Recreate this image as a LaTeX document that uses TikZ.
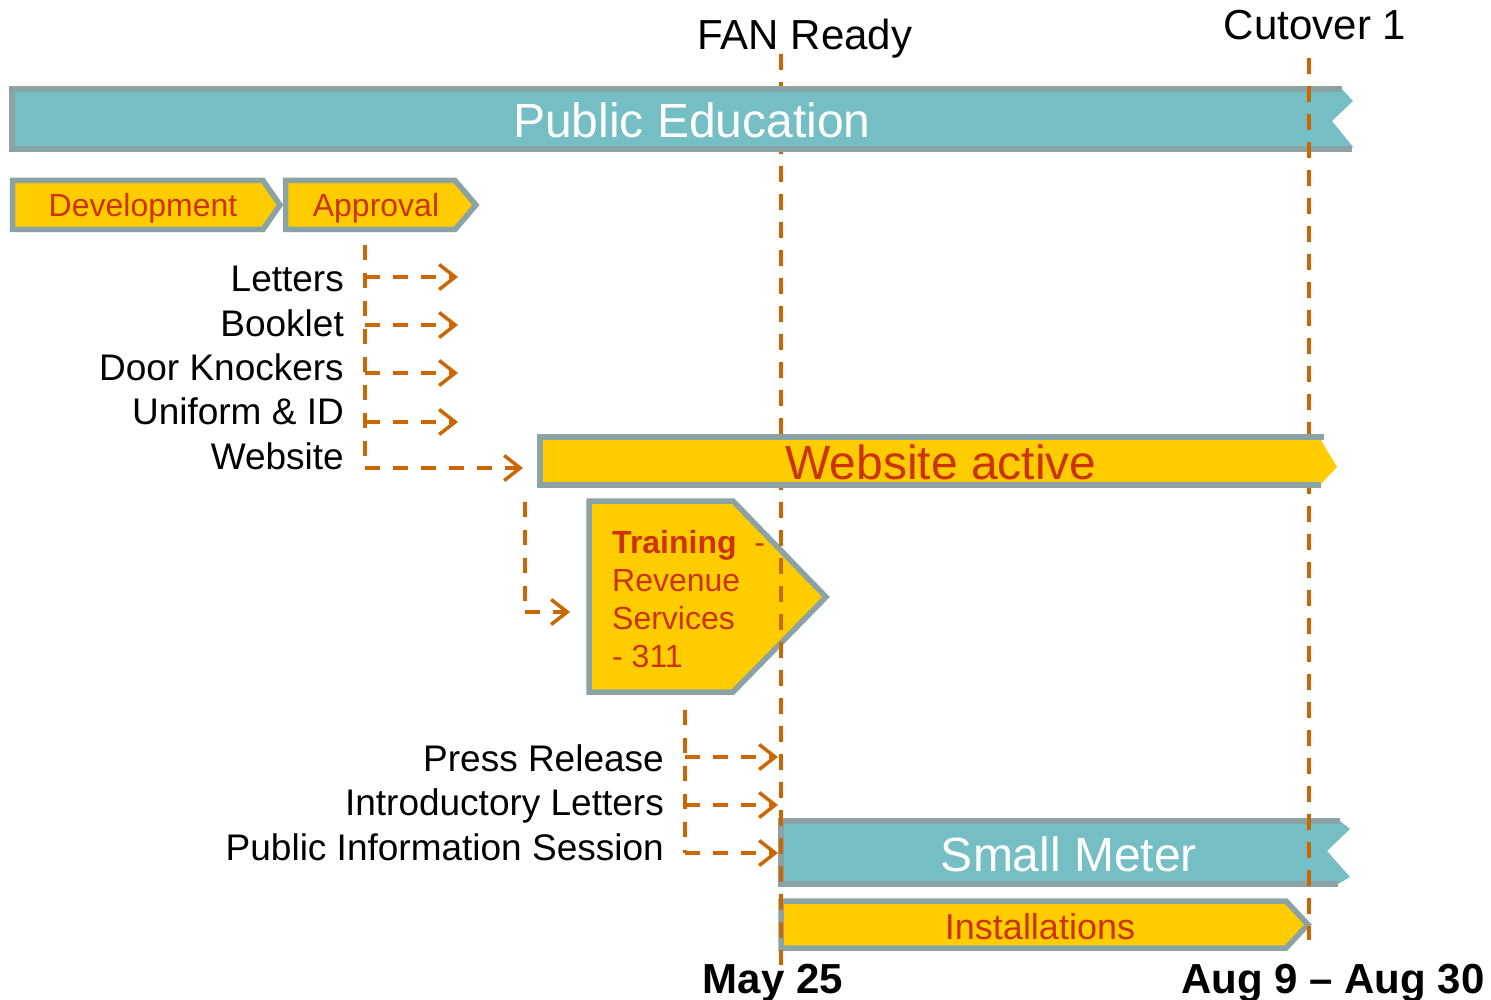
\documentclass[tikz,border=0pt]{standalone}
\usepackage{fontspec}
\setmainfont{Liberation Sans}
\usetikzlibrary{arrows.meta}
\definecolor{tealA}{RGB}{116,190,196}
\definecolor{bordA}{RGB}{139,163,165}
\definecolor{goldA}{RGB}{255,204,0}
\definecolor{rustA}{RGB}{204,51,0}
\definecolor{dashA}{RGB}{204,102,0}
\newcommand\myfs[1]{\fontsize{#1}{#1}\selectfont}
\begin{document}
\begin{tikzpicture}[x=1pt,y=-1pt,
  bordline/.style={draw=bordA, line width=5.5pt},
  chev/.style={bordline, fill=goldA, line join=miter},
  conn/.style={draw=dashA, line width=3.5pt, dash pattern=on 15pt off 13pt},
  arr/.style={conn, -{Straight Barb[length=16pt,width=25pt,line width=3.5pt]}},
  milestone/.style={draw=dashA, line width=3.5pt, dash pattern=on 16pt off 12pt},
  lbl/.style={anchor=base east, inner sep=0pt, font=\myfs{37}},
  bartext/.style={anchor=base, inner sep=0pt},
]
\useasboundingbox (0,0) rectangle (1491,1000);

% Milestone coordinates
\coordinate (fanTop) at (781,54);
\coordinate (fanBot) at (781,965);
\coordinate (cutTop) at (1309,58);
\coordinate (cutBot) at (1309,940);

% FAN line (behind the upper bars)
\draw[milestone] (fanTop) -- (fanBot);

% Public Education
\fill[tealA] (12,89) -- (1342,89) -- (1353,101) -- (1332,121) -- (1353,147) -- (1350,149) -- (12,149) -- cycle;
\draw[bordline] (1342,89) -- (12,89) -- (12,149) -- (1352,149);
\node[bartext, white, font=\myfs{48}] (pubedu) at (692,138) {Public Education};

% Cutover line (over Public Education, behind Website active)
\draw[milestone] (cutTop) -- (cutBot);

% Development / Approval
\draw[chev] (12.5,180.5) -- (263,180.5) -- (280,205) -- (263,229.5) -- (12.5,229.5) -- cycle;
\node[bartext, text=rustA, font=\myfs{32}] (dev) at (143,217) {Development};
\draw[chev] (285.5,180.5) -- (455,180.5) -- (476,205) -- (455,229.5) -- (285.5,229.5) -- cycle;
\node[bartext, text=rustA, font=\myfs{32}] (appr) at (376,217) {Approval};

% Website active
\fill[goldA] (540,437) -- (1319,437) -- (1337,467) -- (1320,485) -- (540,485) -- cycle;
\draw[bordline] (1324,437) -- (540,437) -- (540,485) -- (1321,485);
\node[bartext, text=rustA, font=\myfs{48}] (webact) at (941,479) {Website active};
\coordinate (webin) at (523,468);

% Training
\draw[chev] (589,501) -- (733,501) -- (826,597) -- (733,692) -- (589,692) -- cycle;
\coordinate (trin) at (570,612);
\node[anchor=base west, inner sep=0pt, text=rustA, font=\myfs{32}] (tr1) at (612,553) {\textbf{Training}\ \ -};
\node[anchor=base west, inner sep=0pt, text=rustA, font=\myfs{32}] (tr2) at (612,591) {Revenue};
\node[anchor=base west, inner sep=0pt, text=rustA, font=\myfs{32}] (tr3) at (612,629) {Services};
\node[anchor=base west, inner sep=0pt, text=rustA, font=\myfs{32}] (tr4) at (612,667) {- 311};

% Small Meter
\fill[tealA] (781,821) -- (1340,821) -- (1350,829) -- (1327,851) -- (1350,877) -- (1338,884) -- (781,884) -- cycle;
\draw[bordline] (1340,821) -- (781,821) -- (781,884) -- (1338,884);
\node[bartext, white, font=\myfs{48}] (smeter) at (1069,871) {Small Meter};

% Installations
\draw[chev] (781,901) -- (1286,901) -- (1308,924.5) -- (1286,948) -- (781,948) -- cycle;
\node[bartext, text=rustA, font=\myfs{36}] (inst) at (1040,939) {Installations};

% Milestone lines in front of the lower shapes
\begin{scope}
\clip (0,489) rectangle (1491,1000);
\draw[milestone] (fanTop) -- (fanBot);
\draw[milestone] (cutTop) -- (cutBot);
\end{scope}

% Left labels and connectors
\node[lbl] (l1) at (344,291) {Letters};
\node[lbl] (l2) at (344,336) {Booklet};
\node[lbl] (l3) at (344,380) {Door Knockers};
\node[lbl] (l4) at (344,424) {Uniform \& ID};
\node[lbl] (l5) at (344,469) {Website};
\coordinate (s0) at (365,245);
\coordinate (s1) at (365,277);
\coordinate (s2) at (365,325);
\coordinate (s3) at (365,373);
\coordinate (s4) at (365,422);
\coordinate (s5) at (365,468);
\coordinate (e1) at (458,277);
\coordinate (e2) at (458,325);
\coordinate (e3) at (458,373);
\coordinate (e4) at (458,422);
\draw[conn] (s0) -- (s5);
\draw[arr] (s1) -- (e1);
\draw[arr] (s2) -- (e2);
\draw[arr] (s3) -- (e3);
\draw[arr] (s4) -- (e4);
\draw[arr] (s5) -- (webin);

% Website -> Training
\coordinate (t0) at (525,502);
\coordinate (t1) at (525,612);
\draw[conn] (t0) -- (t1);
\draw[arr] (t1) -- (trin);

% Lower labels
\node[lbl] (p1) at (664,771) {Press Release};
\node[lbl] (p2) at (664,815) {Introductory Letters};
\node[lbl] (p3) at (664,860) {Public Information Session};
\coordinate (q0) at (685,710);
\coordinate (q1) at (685,757);
\coordinate (q2) at (685,805);
\coordinate (q3) at (685,853);
\coordinate (f1) at (778,757);
\coordinate (f2) at (778,805);
\coordinate (f3) at (778,853);
\draw[conn] (q0) -- (q3);
\draw[arr] (q1) -- (f1);
\draw[arr] (q2) -- (f2);
\draw[arr] (q3) -- (f3);

% Milestone labels
\node[anchor=base, inner sep=0pt, font=\myfs{42}] (fan) at (805,50) {FAN Ready};
\node[anchor=base, inner sep=0pt, font=\myfs{42}] (cut) at (1315,40) {Cutover 1};
\node[anchor=base, inner sep=0pt, font=\myfs{42}\bfseries] (may) at (773,993) {May 25};
\node[anchor=base, inner sep=0pt, font=\myfs{42}\bfseries] (aug) at (1333,993) {Aug 9 – Aug 30};
\end{tikzpicture}
\end{document}
